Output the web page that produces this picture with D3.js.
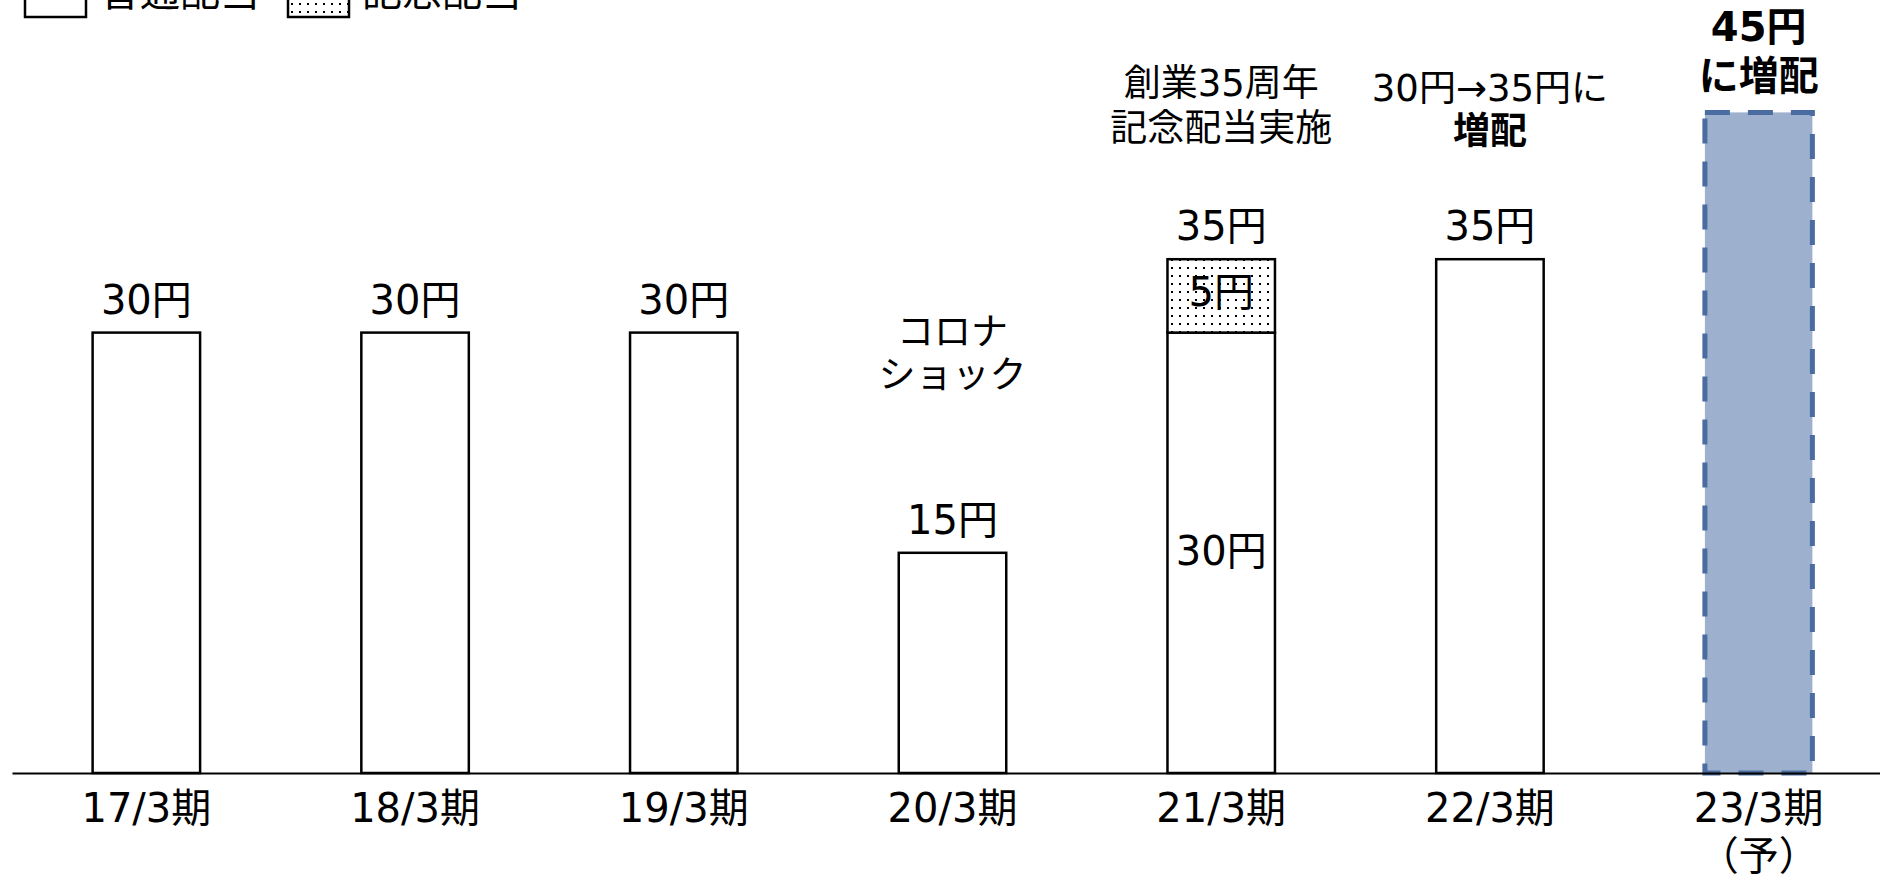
<!DOCTYPE html>
<html lang="ja">
<head>
<meta charset="utf-8">
<script src="https://cdn.jsdelivr.net/npm/d3@7/dist/d3.min.js"></script>
<style>
  html, body { margin: 0; padding: 0; background: #ffffff; }
  svg { display: block; }
  text { font-family: "DejaVu Sans", "Noto Sans CJK JP", sans-serif; fill: #000; stroke: none; font-weight: normal; }
  text.b { font-weight: bold; }
</style>
</head>
<body>
<svg id="chart" width="1880" height="878"></svg>
<script>
// Dividend per share by fiscal period (yen)
const periods = ["17/3期", "18/3期", "19/3期", "20/3期", "21/3期", "22/3期", "23/3期"];
const periodNotes = ["", "", "", "", "", "", "（予）"];
const ordinary = [30, 30, 30, 15, 30, 35, 45];
const commemorative = [0, 0, 0, 0, 5, 0, 0];
const isForecast = [false, false, false, false, false, false, true];
const legendLabels = ["普通配当", "記念配当"];
const yen = v => `${v}円`;

// Call-out text above selected bars
const callouts = [
  [], [], [],
  [{ t: "コロナ", b: false }, { t: "ショック", b: false }],
  [{ t: "創業35周年", b: false }, { t: "記念配当実施", b: false }],
  [{ t: `${yen(ordinary[4])}→${yen(ordinary[5])}に`, b: false }, { t: "増配", b: true }],
  [{ t: yen(ordinary[6] + commemorative[6]), b: true }, { t: "に増配", b: true }]
];

const svg = d3.select("#chart");
const axisY = 773;

const x = d3.scaleBand()
  .domain(periods)
  .range([12, 1893])
  .paddingInner(0.6)
  .paddingOuter(0.3);

const y = d3.scaleLinear()
  .domain([0, 45])
  .range([axisY, 112.4]);

// dotted fill for the commemorative part
const defs = svg.append("defs");
const pat = defs.append("pattern")
  .attr("id", "dots")
  .attr("patternUnits", "userSpaceOnUse")
  .attr("width", 8).attr("height", 8);
pat.append("rect").attr("width", 8).attr("height", 8).attr("fill", "#fff");
pat.append("rect").attr("x", 3).attr("y", 3).attr("width", 2).attr("height", 2).attr("fill", "#000");

const rows = periods.map((p, i) => ({
  p, i,
  base: ordinary[i],
  extra: commemorative[i],
  total: ordinary[i] + commemorative[i],
  forecast: isForecast[i]
}));

// bars
const bars = svg.append("g");
rows.forEach(d => {
  const bx = x(d.p), bw = x.bandwidth();
  if (d.forecast) {
    bars.append("rect")
      .attr("x", bx).attr("y", y(d.total))
      .attr("width", bw).attr("height", y(0) - y(d.total))
      .attr("fill", "#9DB0CE")
      .attr("stroke", "#4A6CA0")
      .attr("stroke-width", 5)
      .attr("stroke-dasharray", "25 18");
    return;
  }
  bars.append("rect")
    .attr("x", bx).attr("y", y(d.base))
    .attr("width", bw).attr("height", y(0) - y(d.base))
    .attr("fill", "#fff").attr("stroke", "#000").attr("stroke-width", 2.5);
  if (d.extra > 0) {
    bars.append("rect")
      .attr("x", bx).attr("y", y(d.total))
      .attr("width", bw).attr("height", y(d.base) - y(d.total))
      .attr("fill", "url(#dots)").attr("stroke", "#000").attr("stroke-width", 2.5);
  }
});

// value labels
const labels = svg.append("g").attr("text-anchor", "middle").attr("font-size", 40);
rows.forEach(d => {
  if (d.forecast) return;
  const cx = x(d.p) + x.bandwidth() / 2;
  labels.append("text")
    .attr("x", cx).attr("y", y(d.total) - 33)
    .attr("dominant-baseline", "central")
    .text(yen(d.total));
  if (d.extra > 0) {
    labels.append("text")
      .attr("x", cx).attr("y", (y(d.total) + y(d.base)) / 2 - 4)
      .attr("dominant-baseline", "central")
      .text(yen(d.extra));
    labels.append("text")
      .attr("x", cx).attr("y", (y(d.base) + y(0)) / 2 - 2)
      .attr("dominant-baseline", "central")
      .text(yen(d.base));
  }
});

// call-outs
const calloutLayout = {
  3: { top: 332, step: 43.5, size: 37 },
  4: { top: 83, step: 45, size: 37 },
  5: { top: 88, step: 43.5, size: 37 },
  6: { top: 27, step: 49, size: 40 }
};
const notes = svg.append("g").attr("text-anchor", "middle");
callouts.forEach((lines, i) => {
  if (!lines.length) return;
  const lay = calloutLayout[i];
  const cx = x(periods[i]) + x.bandwidth() / 2;
  lines.forEach((ln, k) => {
    notes.append("text")
      .attr("class", ln.b ? "b" : null)
      .attr("x", cx).attr("y", lay.top + k * lay.step)
      .attr("dominant-baseline", "central")
      .attr("font-size", lay.size)
      .text(ln.t);
  });
});

// category axis: baseline from the axis generator, labels drawn below it
const axis = svg.append("g")
  .attr("transform", `translate(0,${axisY})`)
  .call(d3.axisBottom(x).tickSize(0).tickSizeOuter(0).tickFormat(""));
axis.select(".domain").attr("stroke", "#000").attr("stroke-width", 2.2);

const tickLabels = svg.append("g").attr("text-anchor", "middle");
periods.forEach((p, i) => {
  const cx = x(p) + x.bandwidth() / 2;
  tickLabels.append("text")
    .attr("x", cx).attr("y", axisY + 35)
    .attr("dominant-baseline", "central")
    .attr("font-size", 40)
    .text(p);
  if (periodNotes[i]) {
    tickLabels.append("text")
      .attr("x", cx).attr("y", axisY + 83)
      .attr("dominant-baseline", "central")
      .attr("font-size", 40)
      .text(periodNotes[i]);
  }
});

// legend (runs past the top edge)
const legend = svg.append("g");
legend.append("rect")
  .attr("x", 25).attr("y", -14).attr("width", 61).attr("height", 31)
  .attr("fill", "#fff").attr("stroke", "#000").attr("stroke-width", 2.5);
legend.append("text")
  .attr("x", 100).attr("y", -8)
  .attr("dominant-baseline", "central").attr("font-size", 40)
  .text(legendLabels[0]);
legend.append("rect")
  .attr("x", 288).attr("y", -14).attr("width", 61).attr("height", 31)
  .attr("fill", "url(#dots)").attr("stroke", "#000").attr("stroke-width", 2.5);
legend.append("text")
  .attr("x", 362).attr("y", -8)
  .attr("dominant-baseline", "central").attr("font-size", 40)
  .text(legendLabels[1]);
</script>
</body>
</html>
